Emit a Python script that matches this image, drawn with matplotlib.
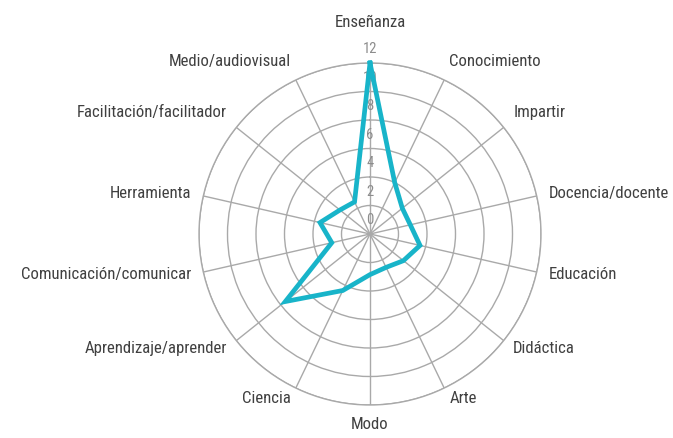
import numpy as np
import matplotlib
matplotlib.use("Agg")
import matplotlib.pyplot as plt
from matplotlib import font_manager

categories = ["Enseñanza", "Conocimiento", "Impartir", "Docencia/docente",
              "Educación", "Didáctica", "Arte", "Modo", "Ciencia",
              "Aprendizaje/aprender", "Comunicación/comunicar", "Herramienta",
              "Facilitación/facilitador", "Medio/audiovisual"]
values = [12.0, 4.0, 2.9, 2.9, 3.6, 3.0, 2.6, 2.85, 4.4, 7.6, 2.75, 3.6, 2.7, 2.5]
r_ticks = [0, 2, 4, 6, 8, 10, 12]

# prefer a narrow face if one is installed, otherwise Roboto a bit smaller
names = {f.name for f in font_manager.fontManager.ttflist}
label_size = 11.0
for fam, size in [("Liberation Sans Narrow", 12.8), ("Roboto Condensed", 12.1)]:
    if fam in names:
        plt.rcParams["font.family"] = [fam, "DejaVu Sans"]
        label_size = size
        break
else:
    plt.rcParams["font.family"] = ["Roboto", "DejaVu Sans"]

grid_col = "#a9a9a9"
line_col = "#18b4c9"

fig = plt.figure(figsize=(6.73, 4.38), dpi=100)
ax = fig.add_axes([199 / 673, 33 / 438, 342 / 673, 342 / 438], projection="polar")
ax.set_theta_zero_location("N")
ax.set_theta_direction(-1)

n = len(categories)
theta = np.arange(n) * 2 * np.pi / n

ax.set_ylim(0, 12)
ax.set_yticks(r_ticks[1:])
ax.set_yticklabels([])
ax.set_xticks(theta)
ax.set_xticklabels([])
ax.grid(True, color=grid_col, lw=1)
ax.spines["polar"].set_color(grid_col)
ax.spines["polar"].set_linewidth(1)

# radial value labels along the top spoke
for v in r_ticks:
    ax.annotate(str(v), xy=(0, v), xytext=(0, 10), textcoords="offset points",
                ha="center", va="center", fontsize=10.5, color="#8c8c8c", zorder=3)

th = np.append(theta, theta[0])
vals = np.append(values, values[0])
ax.plot(th, vals, color=line_col, lw=3.4, solid_joinstyle="miter", zorder=5,
        clip_on=False)

# category labels around the outside
for t, lab in zip(theta, categories):
    s, c = np.sin(t), np.cos(t)
    if s > 0.1:
        ha = "left"
    elif s < -0.1:
        ha = "right"
    else:
        ha = "center"
    if c > 0.5:
        va = "bottom"
    elif c < -0.95:
        va = "top"
    else:
        va = "center"
    r = 12.85 if abs(s) > 0.1 or c < 0 else 14.3
    ax.text(t, r, lab, ha=ha, va=va, fontsize=label_size, color="#404040",
            clip_on=False)

fig.savefig("out.png", dpi=100)
